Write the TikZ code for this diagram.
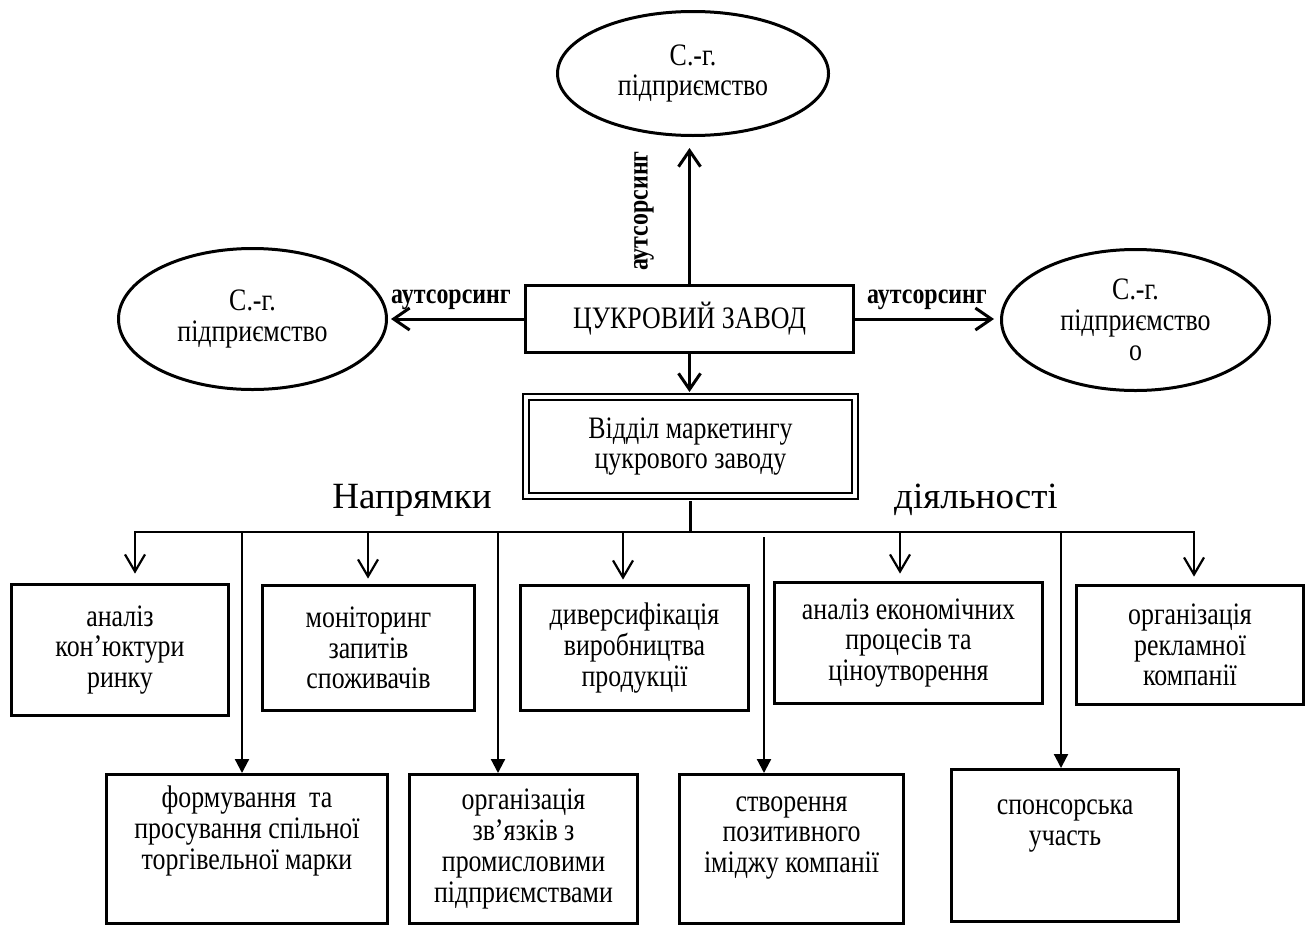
\documentclass[tikz,border=0pt]{standalone}
\usepackage{fontspec}
\setmainfont{Liberation Serif}
\newfontfamily\tallfont{Liberation Serif}[FakeStretch=0.83]
\newcommand\boxfont{\tallfont\fontsize{15.6}{15.4}\selectfont\lineskiplimit-5pt\relax}
\usetikzlibrary{arrows.meta,shapes.geometric}

\begin{document}
\begin{tikzpicture}[x=0.5pt, y=-0.5pt,
	txt/.style={font=\boxfont, align=center, inner sep=0pt},
	ent/.style={ellipse, draw, line width=1.5pt, txt},
	blk/.style={rectangle, draw, line width=1.4pt, txt},
	lbl/.style={font=\tallfont\fontsize{14.4}{16}\selectfont\bfseries, inner sep=0pt},
	head/.style={font=\fontsize{18.5}{22}\selectfont, inner sep=0pt},
	bigarr/.style={line width=1.5pt, -{Straight Barb[length=8pt, width=11pt]}},
	openarr/.style={line width=1.1pt, -{Straight Barb[length=8.5pt, width=10pt]}},
	fillarr/.style={line width=1.1pt, -{Triangle[length=7pt, width=7pt]}}]
	\useasboundingbox (0, 0) rectangle (1309, 926);

	\node[ent, minimum width=135.5pt, minimum height=62pt] (ent-t) at (693, 73.5) {С.-г.\\підприємство};
	\node[ent, minimum width=134pt, minimum height=70.5pt] (ent-l) at (252.5, 319) {С.-г.\\підприємство};
	\node[ent, minimum width=134pt, minimum height=70.5pt] (ent-r) at (1135.5, 320) {С.-г.\\підприємство\\о};

	\node[blk, line width=1.5pt, minimum width=164pt, minimum height=33.5pt] (fac) at (689.5, 319) {ЦУКРОВИЙ ЗАВОД};
	\node[blk, line width=1pt, double, double distance=2pt, minimum width=164.5pt, minimum height=49.5pt] (mkt) at (690.5, 446.5) {Відділ маркетингу\\цукрового заводу};

	\draw[bigarr, shorten >=5.5pt] (fac.north) -- (fac.north |- ent-t.south);
	\draw[bigarr, shorten >=1.5pt] (fac.west) -- (ent-l.east);
	\draw[bigarr, shorten >=3pt] (fac.east) -- (fac.east -| ent-r.west);
	\draw[bigarr, shorten >=2pt] (fac.south) -- (fac.south |- mkt.north);
	\node[lbl] (lab-l) at (451, 300) {аутсорсинг};
	\node[lbl] (lab-r) at (927, 300) {аутсорсинг};
	\node[lbl, rotate=90] (lab-t) at (644, 211) {аутсорсинг};

	\node[head] (hd-l) at (412, 500) {Напрямки};
	\node[head] (hd-r) at (976, 500) {діяльності};

	% upper row
	\node[blk, minimum width=108.6pt, minimum height=65.6pt] (b1) at (120, 650) {аналіз\\кон’юктури\\ринку};
	\node[blk, minimum width=106.1pt, minimum height=62.6pt] (b2) at (368.5, 648) {моніторинг\\запитів\\споживачів};
	\node[blk, minimum width=114.1pt, minimum height=62.6pt] (b3) at (634.5, 648) {диверсифікація\\виробництва\\продукції};
	\node[blk, minimum width=134.1pt, minimum height=60.6pt] (b4) at (908.5, 643) {аналіз економічних\\процесів та\\ціноутворення};
	\node[blk, minimum width=113.6pt, minimum height=59.6pt] (b5) at (1190, 645) {організація\\рекламної\\компанії};

	% lower row
	\node[blk, minimum width=140.6pt, minimum height=74.6pt] (b6) at (247, 849) {};
	\node[txt] (t6) at (247, 831) {формування~ та\\просування спільної\\торгівельної марки};
	\node[blk, minimum width=114.1pt, minimum height=74.6pt] (b7) at (523.5, 849) {організація\\зв’язків з\\промисловими\\підприємствами};
	\node[blk, minimum width=112.1pt, minimum height=74.6pt] (b8) at (791.5, 849) {};
	\node[txt] (t8) at (791.5, 838) {створення\\позитивного\\іміджу компанії};
	\node[blk, minimum width=113.6pt, minimum height=76.1pt] (b9) at (1065, 845.5) {};
	\node[txt] (t9) at (1065, 826) {спонсорська\\участь};

	\coordinate (p1) at (135, 532);
	\coordinate (p2) at (368, 532);
	\coordinate (p3) at (623, 532);
	\coordinate (p4) at (900, 532);
	\coordinate (p5) at (1194, 532);
	\coordinate (p6) at (242, 532);
	\coordinate (p7) at (498, 532);
	\coordinate (p8) at (764, 537);
	\coordinate (p9) at (1061, 532);
	\draw[line width=1.1pt, line cap=rect] (p1) -- (p5);
	\draw[line width=1.1pt, shorten <=2pt] (mkt.south) -- (mkt.south |- p1);

	\draw[openarr, shorten >=4.7pt] (p1) -- (p1 |- b1.north);
	\draw[openarr, shorten >=2.7pt] (p2) -- (p2 |- b2.north);
	\draw[openarr, shorten >=2.2pt] (p3) -- (p3 |- b3.north);
	\draw[openarr, shorten >=3.7pt] (p4) -- (p4 |- b4.north);
	\draw[openarr, shorten >=3.7pt] (p5) -- (p5 |- b5.north);

	\draw[fillarr] (p6) -- (p6 |- b6.north);
	\draw[fillarr] (p7) -- (p7 |- b7.north);
	\draw[fillarr] (p8) -- (p8 |- b8.north);
	\draw[fillarr] (p9) -- (p9 |- b9.north);
\end{tikzpicture}
\end{document}
